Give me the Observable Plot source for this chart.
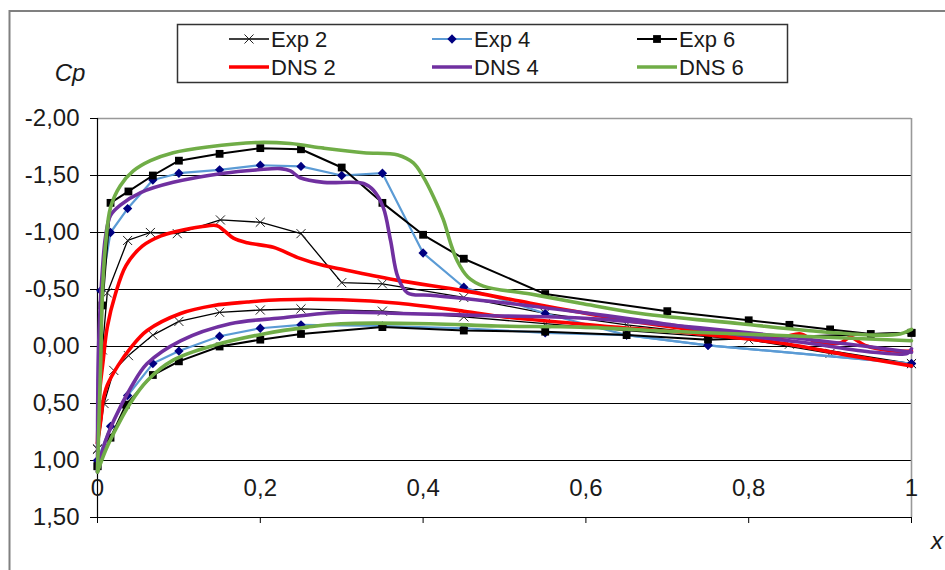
<!DOCTYPE html>
<html><head><meta charset="utf-8">
<script src="https://cdn.jsdelivr.net/npm/d3@7"></script>
<script src="https://cdn.jsdelivr.net/npm/@observablehq/plot@0.6"></script>
<style>body{margin:0;background:#fff;} #chart{width:945px;height:570px;overflow:hidden;}</style>
</head><body><div id="chart"></div>
<script>
// ---- ticks ----
const yTicks = [-2, -1.5, -1, -0.5, 0, 0.5, 1, 1.5];
const yTickLabels = ["-2,00", "-1,50", "-1,00", "-0,50", "0,00", "0,50", "1,00", "1,50"];
const xTicks = [0, 0.2, 0.4, 0.6, 0.8, 1];
const xTickLabels = ["0", "0,2", "0,4", "0,6", "0,8", "1"];
const gridValues = [-1.5, -1, -0.5, 0, 0.5, 1];
const seriesNames = ["Exp 2", "Exp 4", "Exp 6", "DNS 2", "DNS 4", "DNS 6"];

// ---- Exp 2 ----
const exp2UpperX = [0, 0.006, 0.012, 0.037, 0.065, 0.098, 0.151, 0.20, 0.25, 0.30, 0.35, 0.45, 0.55, 0.65, 0.75, 0.85, 1.0];
const exp2UpperCp = [0.90, 0.03, -0.47, -0.93, -1.00, -0.99, -1.11, -1.09, -0.99, -0.56, -0.55, -0.43, -0.29, -0.19, -0.11, -0.02, 0.15];
const exp2LowerX = [0, 0.008, 0.02, 0.038, 0.068, 0.10, 0.15, 0.20, 0.25, 0.35, 0.45, 0.55, 0.65, 0.80, 0.90, 1.0];
const exp2LowerCp = [0.90, 0.50, 0.21, 0.08, -0.10, -0.22, -0.30, -0.32, -0.33, -0.31, -0.26, -0.20, -0.14, -0.06, 0.06, 0.15];

// ---- Exp 4 ----
const exp4UpperX = [0, 0.004, 0.016, 0.037, 0.068, 0.10, 0.15, 0.20, 0.25, 0.30, 0.35, 0.40, 0.45, 0.55, 0.65, 0.75, 1.0];
const exp4UpperCp = [1.00, -0.49, -1.00, -1.21, -1.46, -1.52, -1.55, -1.59, -1.58, -1.50, -1.52, -0.82, -0.52, -0.29, -0.10, -0.01, 0.15];
const exp4LowerX = [0, 0.016, 0.037, 0.068, 0.10, 0.15, 0.20, 0.25, 0.35, 0.45, 0.55, 0.65, 0.75, 1.0];
const exp4LowerCp = [1.00, 0.70, 0.43, 0.15, 0.04, -0.09, -0.16, -0.19, -0.18, -0.16, -0.12, -0.10, -0.01, 0.15];

// ---- Exp 6 ----
const exp6UpperX = [0, 0.006, 0.016, 0.038, 0.068, 0.10, 0.15, 0.20, 0.25, 0.30, 0.35, 0.40, 0.45, 0.55, 0.70, 0.80, 0.85, 0.90, 0.95, 1.0];
const exp6UpperCp = [1.05, -0.36, -1.26, -1.36, -1.50, -1.63, -1.69, -1.74, -1.73, -1.57, -1.26, -0.98, -0.77, -0.46, -0.31, -0.23, -0.19, -0.15, -0.11, -0.12];
const exp6LowerX = [0, 0.016, 0.035, 0.068, 0.10, 0.15, 0.20, 0.25, 0.35, 0.45, 0.55, 0.65, 0.75, 1.0];
const exp6LowerCp = [1.05, 0.80, 0.51, 0.25, 0.13, 0.00, -0.06, -0.11, -0.17, -0.14, -0.13, -0.10, -0.06, -0.12];

// ---- DNS 2 ----
const dns2UpperX = [0, 0.002, 0.007, 0.012, 0.022, 0.035, 0.055, 0.078, 0.098, 0.127, 0.147, 0.155, 0.167, 0.184, 0.216, 0.246, 0.278, 0.299, 0.369, 0.450, 0.532, 0.593, 0.667, 0.741, 0.839, 0.864, 0.882, 0.912, 0.925, 0.943, 0.978, 1.0];
const dns2UpperCp = [0.85, 0.45, 0.12, -0.17, -0.46, -0.71, -0.88, -0.97, -1.01, -1.05, -1.06, -1.02, -0.95, -0.91, -0.87, -0.78, -0.71, -0.68, -0.58, -0.49, -0.38, -0.30, -0.21, -0.14, -0.08, -0.11, -0.04, -0.03, -0.08, -0.01, 0.04, 0.04];
const dns2LowerX = [0, 0.004, 0.007, 0.012, 0.025, 0.041, 0.061, 0.102, 0.143, 0.184, 0.225, 0.30, 0.37, 0.45, 0.50, 0.59, 0.62, 0.74, 0.839, 0.925, 1.0];
const dns2LowerCp = [0.85, 0.65, 0.47, 0.34, 0.17, 0.01, -0.14, -0.29, -0.36, -0.39, -0.41, -0.41, -0.38, -0.31, -0.26, -0.20, -0.18, -0.11, -0.03, 0.08, 0.17];

// ---- DNS 4 ----
const dns4UpperX = [0, 0.0005, 0.002, 0.006, 0.010, 0.016, 0.028, 0.053, 0.093, 0.155, 0.197, 0.225, 0.237, 0.249, 0.278, 0.327, 0.339, 0.351, 0.360, 0.369, 0.381, 0.409, 0.491, 0.593, 0.667, 0.790, 0.872, 0.953, 0.995, 1.0];
const dns4UpperCp = [1.10, 0.30, -0.14, -0.67, -0.97, -1.15, -1.24, -1.35, -1.44, -1.52, -1.55, -1.56, -1.54, -1.48, -1.44, -1.43, -1.37, -1.22, -0.93, -0.61, -0.47, -0.45, -0.39, -0.30, -0.23, -0.10, -0.03, 0.05, 0.06, 0.02];
const dns4LowerX = [0, 0.007, 0.020, 0.041, 0.061, 0.102, 0.163, 0.225, 0.299, 0.372, 0.483, 0.593, 0.716, 0.864, 1.0];
const dns4LowerCp = [1.10, 0.89, 0.65, 0.36, 0.15, -0.05, -0.20, -0.25, -0.30, -0.29, -0.27, -0.25, -0.18, -0.07, 0.05];

// ---- DNS 6 ----
const dns6UpperX = [0, 0.002, 0.004, 0.006, 0.010, 0.016, 0.028, 0.044, 0.065, 0.093, 0.135, 0.197, 0.237, 0.278, 0.327, 0.369, 0.388, 0.400, 0.413, 0.425, 0.434, 0.442, 0.455, 0.474, 0.532, 0.593, 0.667, 0.790, 0.872, 0.953, 0.986, 1.0];
const dns6UpperCp = [1.10, 0.60, 0.12, -0.46, -0.90, -1.22, -1.41, -1.54, -1.63, -1.70, -1.75, -1.79, -1.78, -1.74, -1.70, -1.68, -1.61, -1.49, -1.31, -1.11, -0.90, -0.75, -0.61, -0.53, -0.46, -0.38, -0.29, -0.20, -0.14, -0.10, -0.11, -0.15];
const dns6LowerX = [0, 0.010, 0.020, 0.040, 0.061, 0.093, 0.143, 0.204, 0.258, 0.299, 0.409, 0.491, 0.593, 0.716, 0.864, 1.0];
const dns6LowerCp = [1.10, 0.91, 0.76, 0.50, 0.30, 0.12, -0.01, -0.11, -0.17, -0.20, -0.20, -0.18, -0.17, -0.13, -0.09, -0.05];

// ---- build tables ----
function surfaceRows(series, xu, cu, xl, cl) {
  const a = xu.map((x, i) => ({series, surface: series + " upper", x, cp: cu[i]}));
  const b = xl.map((x, i) => ({series, surface: series + " lower", x, cp: cl[i]}));
  return a.concat(b);
}
const exp2 = surfaceRows("Exp 2", exp2UpperX, exp2UpperCp, exp2LowerX, exp2LowerCp);
const exp4 = surfaceRows("Exp 4", exp4UpperX, exp4UpperCp, exp4LowerX, exp4LowerCp);
const exp6 = surfaceRows("Exp 6", exp6UpperX, exp6UpperCp, exp6LowerX, exp6LowerCp);
const dns2 = surfaceRows("DNS 2", dns2UpperX, dns2UpperCp, dns2LowerX, dns2LowerCp);
const dns4 = surfaceRows("DNS 4", dns4UpperX, dns4UpperCp, dns4LowerX, dns4LowerCp);
const dns6 = surfaceRows("DNS 6", dns6UpperX, dns6UpperCp, dns6LowerX, dns6LowerCp);

const C = {exp2: "#000000", exp4: "#5b9bd5", exp4m: "#000080", exp6: "#000000", dns2: "#ff0000", dns4: "#7030a0", dns6: "#70ad47"};
const FONT = "'Liberation Sans', Arial, Helvetica, sans-serif";

const plot = Plot.plot({
  width: 945,
  height: 570,
  marginLeft: 97,
  marginRight: 34,
  marginTop: 118,
  marginBottom: 53,
  style: {fontFamily: FONT, fontSize: "24px", color: "#000", background: "transparent", overflow: "visible"},
  x: {domain: [0, 1], label: null},
  y: {domain: [-2, 1.5], reverse: true, label: null},
  marks: [
    Plot.ruleY(gridValues, {stroke: "#000", strokeWidth: 1.2}),
    Plot.ruleY([-2], {stroke: "#999", strokeWidth: 1.6}),
    Plot.ruleX([1], {stroke: "#999", strokeWidth: 1.6}),
    Plot.ruleY([1.5], {stroke: "#000", strokeWidth: 1.2}),
    Plot.ruleX([0], {stroke: "#000", strokeWidth: 1.2}),
    Plot.axisY({ticks: yTicks, tickFormat: d => yTickLabels[yTicks.indexOf(d)], tickSize: 7, tickPadding: 11, fontSize: 24, label: null, fill: "#1a1a1a"}),
    Plot.axisX({ticks: xTicks, tickFormat: () => "", tickSize: 6, label: null}),
    Plot.text(xTicks, {x: d => d, y: () => 1.5, text: (d, i) => xTickLabels[i], dy: -29, fontSize: 24, fill: "#1a1a1a"}),
    // experimental
    Plot.line(exp2, {x: "x", y: "cp", z: "surface", stroke: C.exp2, strokeWidth: 1.3}),
    Plot.dot(exp2, {x: "x", y: "cp", symbol: "times", r: 4.2, stroke: "#222", strokeWidth: 1}),
    Plot.line(exp4, {x: "x", y: "cp", z: "surface", stroke: C.exp4, strokeWidth: 2.2}),
    Plot.dot(exp4, {x: "x", y: "cp", symbol: "diamond2", r: 4.2, fill: C.exp4m, stroke: "none"}),
    Plot.line(exp6, {x: "x", y: "cp", z: "surface", stroke: C.exp6, strokeWidth: 2}),
    Plot.dot(exp6, {x: "x", y: "cp", symbol: "square", r: 4.4, fill: "#000", stroke: "none"}),
    // DNS
    Plot.line(dns2, {x: "x", y: "cp", z: "surface", stroke: C.dns2, strokeWidth: 3.6, curve: "catmull-rom", strokeLinejoin: "round"}),
    Plot.line(dns4, {x: "x", y: "cp", z: "surface", stroke: C.dns4, strokeWidth: 3.6, curve: "catmull-rom", strokeLinejoin: "round"}),
    Plot.line(dns6, {x: "x", y: "cp", z: "surface", stroke: C.dns6, strokeWidth: 3.6, curve: "catmull-rom", strokeLinejoin: "round"})
  ]
});

const svg = d3.select(plot);
// outer chart border
svg.insert("rect", ":first-child").attr("x", 9.5).attr("y", 11).attr("width", 1000).attr("height", 1000)
  .attr("fill", "#fff").attr("stroke", "#808080").attr("stroke-width", 2);

// axis titles
svg.append("text").attr("x", 70).attr("y", 81).attr("text-anchor", "middle")
  .attr("font-style", "italic").attr("font-size", 24).attr("font-family", FONT).attr("fill", "#1a1a1a").text("Cp");
svg.append("text").attr("x", 937).attr("y", 549).attr("text-anchor", "middle")
  .attr("font-style", "italic").attr("font-size", 24).attr("font-family", FONT).attr("fill", "#1a1a1a").text("x");

// legend
const lg = svg.append("g");
lg.append("rect").attr("x", 177.5).attr("y", 24.5).attr("width", 610).attr("height", 58)
  .attr("fill", "#fff").attr("stroke", "#333").attr("stroke-width", 1.5);
const legendCols = [229, 432, 637];
const legendRows = [39, 67];
const legendStyle = [
  {stroke: C.exp2, w: 1.3, sym: d3.symbolTimes, size: 55, symFill: "none", symStroke: "#222"},
  {stroke: C.exp4, w: 2.2, sym: d3.symbolDiamond2, size: 55, symFill: C.exp4m, symStroke: "none"},
  {stroke: C.exp6, w: 2, sym: d3.symbolSquare, size: 61, symFill: "#000", symStroke: "none"},
  {stroke: C.dns2, w: 3.6},
  {stroke: C.dns4, w: 3.6},
  {stroke: C.dns6, w: 3.6}
];
seriesNames.forEach((name, i) => {
  const cx = legendCols[i % 3], cy = legendRows[Math.floor(i / 3)];
  const s = legendStyle[i];
  lg.append("line").attr("x1", cx).attr("x2", cx + 40).attr("y1", cy).attr("y2", cy)
    .attr("stroke", s.stroke).attr("stroke-width", s.w);
  if (s.sym) {
    lg.append("path").attr("d", d3.symbol(s.sym, s.size)()).attr("transform", `translate(${cx + 20},${cy})`)
      .attr("fill", s.symFill).attr("stroke", s.symStroke).attr("stroke-width", 1);
  }
  lg.append("text").attr("x", cx + 42).attr("y", cy + 8).attr("text-anchor", "start")
    .attr("font-size", 22).attr("font-family", FONT).attr("fill", "#1a1a1a").text(name);
});

document.getElementById("chart").appendChild(plot);
</script>
</body></html>
